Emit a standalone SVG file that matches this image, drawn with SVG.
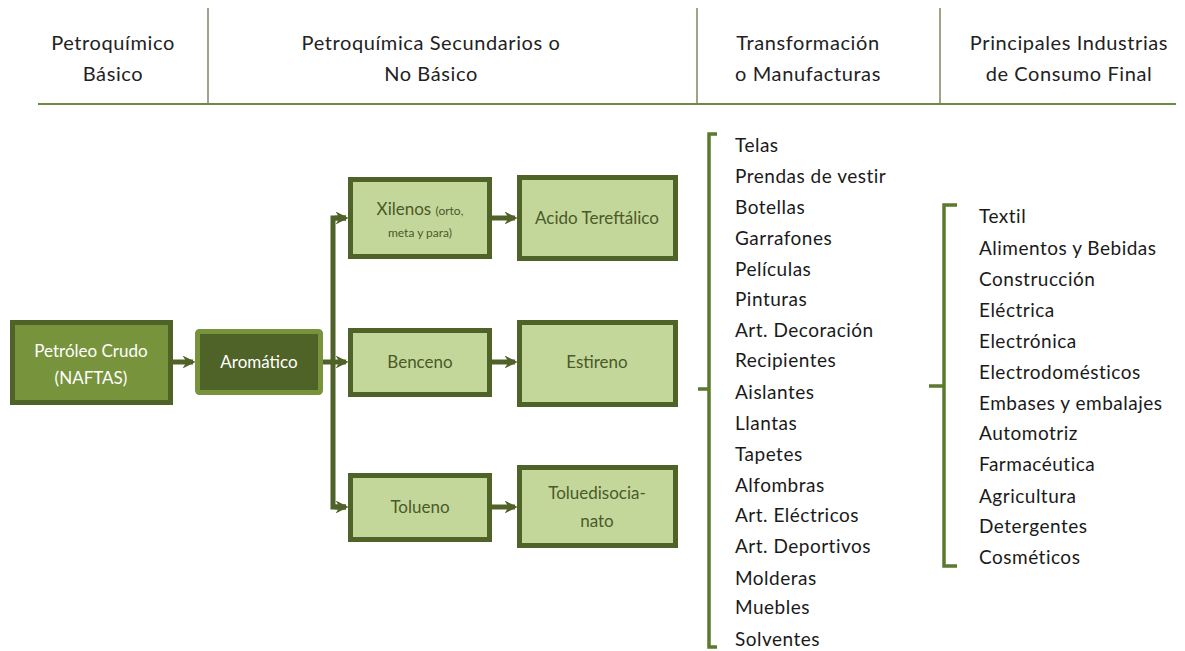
<svg xmlns="http://www.w3.org/2000/svg" width="1185" height="651" viewBox="0 0 1185 651">
<style>
.hd{font-family:Lato,"Open Sans",sans-serif;font-size:20px;letter-spacing:0.6px;fill:#222;text-anchor:middle}
.li{font-family:Lato,"Open Sans",sans-serif;font-size:19px;letter-spacing:0.5px;fill:#1a1a1a}
.bx{fill:#c4d79b;stroke:#4f6228;stroke-width:5}
.bt{font-family:Lato,"Open Sans",sans-serif;font-size:17px;fill:#4a5a28;text-anchor:middle}
.sm{font-size:12px}
.wt{font-family:Lato,"Open Sans",sans-serif;font-size:17px;fill:#fff;text-anchor:middle}
.cn{stroke:#4f6228;stroke-width:5;fill:none}
.br{stroke:#5a7a2e;stroke-width:3.5;fill:none}
</style>
<defs>
<marker id="ah" viewBox="0 0 10 10" refX="8" refY="5" markerWidth="2.6" markerHeight="2.6" orient="auto" markerUnits="strokeWidth">
<path d="M0,0 L10,5 L0,10 L3,5 z" fill="#4f6228"/>
</marker>
</defs>
<g id="header">
<line x1="208" y1="8" x2="208" y2="103" stroke="#9aa58a" stroke-width="2"/>
<line x1="697" y1="8" x2="697" y2="103" stroke="#9aa58a" stroke-width="2"/>
<line x1="940" y1="8" x2="940" y2="103" stroke="#9aa58a" stroke-width="2"/>
<line x1="38" y1="104" x2="1176" y2="104" stroke="#6b8a3e" stroke-width="2"/>
<text class="hd" x="113" y="50">Petroquímico</text>
<text class="hd" x="113" y="81">Básico</text>
<text class="hd" x="431" y="50">Petroquímica Secundarios o</text>
<text class="hd" x="431" y="81">No Básico</text>
<text class="hd" x="808" y="50">Transformación</text>
<text class="hd" x="808" y="81">o Manufacturas</text>
<text class="hd" x="1069" y="50">Principales Industrias</text>
<text class="hd" x="1069" y="81">de Consumo Final</text>
</g>
<g id="connectors">
<line class="cn" x1="172" y1="362" x2="193" y2="362" marker-end="url(#ah)"/>
<line class="cn" x1="322" y1="362" x2="346" y2="362" marker-end="url(#ah)"/>
<polyline class="cn" points="346,218 333,218 333,507 346,507"/>
<line class="cn" x1="335" y1="218" x2="346" y2="218" marker-end="url(#ah)"/>
<line class="cn" x1="335" y1="507" x2="346" y2="507" marker-end="url(#ah)"/>
<line class="cn" x1="492" y1="218" x2="515" y2="218" marker-end="url(#ah)"/>
<line class="cn" x1="492" y1="362" x2="515" y2="362" marker-end="url(#ah)"/>
<line class="cn" x1="492" y1="507" x2="515" y2="507" marker-end="url(#ah)"/>
</g>
<g id="petroleo">
<rect x="12.5" y="322.5" width="158" height="80" fill="#77933c" stroke="#4f6228" stroke-width="5"/>
<text class="wt" x="91" y="357">Petróleo Crudo</text>
<text class="wt" x="91" y="384">(NAFTAS)</text>
</g>
<g id="aromatico">
<rect x="197.5" y="331.5" width="123" height="61" rx="2" fill="#4f6228" stroke="#77933c" stroke-width="5"/>
<text class="wt" x="259" y="368">Aromático</text>
</g>
<g id="xilenos">
<rect class="bx" x="350.5" y="179.5" width="139" height="77"/>
<text class="bt" x="420" y="215">Xilenos <tspan class="sm">(orto,</tspan></text>
<text class="bt sm" x="420" y="237">meta y para)</text>
</g>
<g id="acido">
<rect class="bx" x="519.5" y="177.5" width="156" height="81"/>
<text class="bt" x="597" y="224">Acido Tereftálico</text>
</g>
<g id="benceno">
<rect class="bx" x="350.5" y="330.5" width="139" height="64"/>
<text class="bt" x="420" y="368">Benceno</text>
</g>
<g id="estireno">
<rect class="bx" x="519.5" y="322.5" width="156" height="82"/>
<text class="bt" x="597" y="368">Estireno</text>
</g>
<g id="tolueno">
<rect class="bx" x="350.5" y="475.5" width="139" height="64"/>
<text class="bt" x="420" y="513">Tolueno</text>
</g>
<g id="toluedisocianato">
<rect class="bx" x="519.5" y="467.5" width="156" height="78"/>
<text class="bt" x="597" y="499">Toluedisocia-</text>
<text class="bt" x="597" y="527">nato</text>
</g>
<g id="manufacturas">
<path class="br" d="M717,134 L709,134 L709,647 L717,647 M709,389 L698,389"/>
<text class="li" x="735" y="152">Telas</text>
<text class="li" x="735" y="183">Prendas de vestir</text>
<text class="li" x="735" y="214">Botellas</text>
<text class="li" x="735" y="245">Garrafones</text>
<text class="li" x="735" y="276">Películas</text>
<text class="li" x="735" y="306">Pinturas</text>
<text class="li" x="735" y="337">Art. Decoración</text>
<text class="li" x="735" y="367">Recipientes</text>
<text class="li" x="735" y="399">Aislantes</text>
<text class="li" x="735" y="430">Llantas</text>
<text class="li" x="735" y="461">Tapetes</text>
<text class="li" x="735" y="492">Alfombras</text>
<text class="li" x="735" y="522">Art. Eléctricos</text>
<text class="li" x="735" y="553">Art. Deportivos</text>
<text class="li" x="735" y="585">Molderas</text>
<text class="li" x="735" y="614">Muebles</text>
<text class="li" x="735" y="646">Solventes</text>
</g>
<g id="industrias">
<path class="br" d="M957,205 L944,205 L944,566 L957,566 M944,386 L929,386"/>
<text class="li" x="979" y="223">Textil</text>
<text class="li" x="979" y="255">Alimentos y Bebidas</text>
<text class="li" x="979" y="286">Construcción</text>
<text class="li" x="979" y="317">Eléctrica</text>
<text class="li" x="979" y="348">Electrónica</text>
<text class="li" x="979" y="379">Electrodomésticos</text>
<text class="li" x="979" y="410">Embases y embalajes</text>
<text class="li" x="979" y="440">Automotriz</text>
<text class="li" x="979" y="471">Farmacéutica</text>
<text class="li" x="979" y="503">Agricultura</text>
<text class="li" x="979" y="533">Detergentes</text>
<text class="li" x="979" y="564">Cosméticos</text>
</g>
</svg>
